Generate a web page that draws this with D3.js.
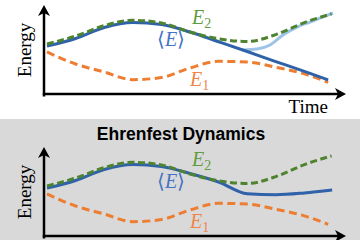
<!DOCTYPE html>
<html><head><meta charset="utf-8">
<script src="https://cdn.jsdelivr.net/npm/d3@7"></script>
<style>html,body{margin:0;padding:0;background:#fff;overflow:hidden}</style>
</head><body><svg id="c" width="360" height="240"></svg>
<script>
// ---- data (time in arbitrary units 0..10, energy in arbitrary units 0..10) ----
const timeE1 = [0,1,2,3,4,5,6,7,8,9,9.83];
const energyE1 = [4.67,3.33,2.44,1.59,1.83,2.89,3.63,3.56,2.97,2.24,1.3];
const timeE2 = [0,1,2,3,4,5,6,7,8,9,9.95];
const energyE2 = [5.56,6.44,7.6,8.19,7.9,6.89,6.14,5.83,6.6,7.93,8.9];
const timeHopAvg = [0,1,2,3,4,5,6,7,8,9,9.83];
const energyHopAvg = [5.33,6.17,7.39,7.94,7.72,6.89,5.81,4.72,3.6,2.51,1.56];
const timeHopBranch = [6.82,7.34,7.8,8.25,8.74,9.2,9.65,10];
const energyHopBranch = [4.89,5.0,5.44,6.56,7.44,8.0,8.56,9.0];
const timeEhrAvg = [0,1,2,3,4,5,6,7,8,9,9.97];
const energyEhrAvg = [5.33,6.17,7.39,7.94,7.72,6.95,6.0,4.7,4.58,4.78,5.11];
const panelTitles = ["", "Ehrenfest Dynamics"];
const xAxisLabel = "Time";
const yAxisLabel = "Energy";

const svg = d3.select("#c");
const W = 360, H = 240;
const panelShift = 142;

svg.append("rect").attr("x",0).attr("y",0).attr("width",W).attr("height",H).attr("fill","#ffffff");
svg.append("rect").attr("x",0).attr("y",119).attr("width",W).attr("height",H-119).attr("fill","#d9d9d9");

const x = d3.scaleLinear().domain([0,10]).range([47,333]);
const y = d3.scaleLinear().domain([0,10]).range([94,4]);
const line = d3.line().x(d=>x(d[0])).y(d=>y(d[1])).curve(d3.curveMonotoneX);
const zip = (t,e)=>t.map((v,i)=>[v,e[i]]);

const C = {
  blue:"#2f62a8", light:"#9dc3e6", green:"#4e8430", orange:"#ed7d31",
  tBlue:"#4472c4", tGreen:"#5e9c3e", tOrange:"#f08548"
};

function drawPanel(idx){
  const g = svg.append("g").attr("transform",`translate(0,${idx*panelShift})`);
  const x0 = x.range()[0]-3, y0 = y.range()[0];
  // axes
  g.append("line").attr("x1",x0).attr("x2",x0).attr("y1",y0+2.5).attr("y2",y.range()[1]+8)
    .attr("stroke","#000").attr("stroke-width",2.5);
  g.append("line").attr("x1",x0-1.2).attr("x2",x.range()[1]+6).attr("y1",y0).attr("y2",y0)
    .attr("stroke","#000").attr("stroke-width",2.5);
  const yt = y.range()[1]+1;
  g.append("path").attr("d",`M${x0},${yt} L${x0-6},${yt+11} L${x0},${yt+8} L${x0+6},${yt+11} Z`).attr("fill","#000");
  const xt = x.range()[1]+13;
  g.append("path").attr("d",`M${xt},${y0} L${xt-11},${y0-6} L${xt-8},${y0} L${xt-11},${y0+6} Z`).attr("fill","#000");

  // axis labels
  g.append("text").attr("transform",`translate(31,${y(4.9)}) rotate(-90)`)
    .attr("text-anchor","middle").attr("font-family","Liberation Serif").attr("font-size",19)
    .attr("fill","#000").text(yAxisLabel);
  if(idx===0){
    g.append("text").attr("x",328).attr("y",y0+19).attr("text-anchor","end")
      .attr("font-family","Liberation Serif").attr("font-size",19).attr("fill","#000").text(xAxisLabel);
  }

  if(panelTitles[idx]){
    g.append("text").attr("x",181).attr("y",-2).attr("text-anchor","middle")
      .attr("font-family","Liberation Sans").attr("font-weight","bold").attr("font-size",17.5)
      .attr("fill","#000").text(panelTitles[idx]);
  }

  // curves
  if(idx===0){
    g.append("path").attr("d",line(zip(timeHopBranch,energyHopBranch))).attr("fill","none")
      .attr("stroke",C.light).attr("stroke-width",3);
  }
  g.append("path").attr("d",line(zip(timeE1,energyE1))).attr("fill","none")
    .attr("stroke",C.orange).attr("stroke-width",3).attr("stroke-dasharray","8,4.5");
  const avg = idx===0 ? zip(timeHopAvg,energyHopAvg) : zip(timeEhrAvg,energyEhrAvg);
  g.append("path").attr("d",line(avg)).attr("fill","none")
    .attr("stroke",C.blue).attr("stroke-width",3);
  g.append("path").attr("d",line(zip(timeE2,energyE2))).attr("fill","none")
    .attr("stroke",C.green).attr("stroke-width",3).attr("stroke-dasharray","7,3.5");

  // curve labels
  function lab(t,e,color,main,sub){
    const tx = g.append("text").attr("x",x(t)).attr("y",y(e)).attr("fill",color)
      .attr("font-family","Liberation Serif").attr("font-size",20);
    if(sub){
      tx.append("tspan").attr("font-style","italic").text(main);
      tx.append("tspan").attr("font-size",14).attr("dy",4).text(sub);
    } else {
      tx.append("tspan").text("\u27E8");
      tx.append("tspan").attr("font-style","italic").text(main);
      tx.append("tspan").text("\u27E9");
    }
  }
  lab(5.07,7.75,C.tGreen,"E","2");
  lab(3.85,5.3,C.tBlue,"E",null);
  lab(5.0,0.85,C.tOrange,"E","1");
}
drawPanel(0);
drawPanel(1);
</script></body></html>
